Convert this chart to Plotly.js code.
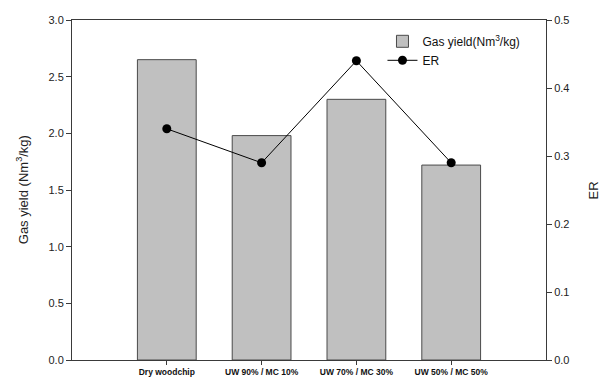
<!DOCTYPE html>
<html>
<head>
<meta charset="utf-8">
<script src="https://cdn.plot.ly/plotly-3.0.1.min.js"></script>
<style>
  html, body { margin: 0; padding: 0; background: #fff; }
  #chart { width: 602px; height: 379px; }
</style>
</head>
<body>
<div id="chart"></div>
<script>
// Feed conditions (dry woodchip vs. wet-woodchip blends)
const categories = ["Dry woodchip", "UW 90% / MC 10%", "UW 70% / MC 30%", "UW 50% / MC 50%"];
// Gas yield, Nm3/kg
const gasYield = [2.65, 1.98, 2.30, 1.72];
// Equivalence ratio
const erValues = [0.34, 0.29, 0.44, 0.29];
const leftTicks = [0, 0.5, 1.0, 1.5, 2.0, 2.5, 3.0];
const rightTicks = [0, 0.1, 0.2, 0.3, 0.4, 0.5];

const font = "Liberation Sans, Arial, sans-serif";

const traces = [
  {
    type: "bar",
    name: "Gas yield(Nm<sup>3</sup>/kg)",
    x: categories,
    y: gasYield,
    width: 0.62,
    marker: { color: "#c0c0c0", line: { color: "#4a4a4a", width: 1 } },
    yaxis: "y"
  },
  {
    type: "scatter",
    mode: "lines+markers",
    name: "ER",
    x: categories,
    y: erValues,
    line: { color: "#000", width: 1 },
    marker: { color: "#000", size: 9 },
    yaxis: "y2"
  }
];

const layout = {
  width: 602,
  height: 379,
  margin: { l: 72, r: 56, t: 20, b: 19 },
  paper_bgcolor: "#fff",
  plot_bgcolor: "#fff",
  showlegend: true,
  font: { family: font, color: "#222" },
  legend: {
    x: 0.655, y: 0.98, xanchor: "left", yanchor: "top",
    bgcolor: "rgba(0,0,0,0)",
    font: { size: 12, family: font, color: "#111" },
    tracegroupgap: 0,
    itemwidth: 30
  },
  xaxis: {
    type: "category",
    range: [-1, 4],
    showline: true, mirror: true, linecolor: "#3a3a3a", linewidth: 1,
    ticks: "outside", ticklen: 4, tickcolor: "#3a3a3a",
    tickfont: { size: 8.5, family: font, color: "#111", weight: "bold" },
    showgrid: false, zeroline: false, automargin: false
  },
  yaxis: {
    range: [0, 3],
    tickvals: leftTicks,
    ticktext: leftTicks.map(v => v.toFixed(1)),
    showline: true, linecolor: "#3a3a3a", linewidth: 1,
    ticks: "outside", ticklen: 5, tickcolor: "#3a3a3a",
    tickfont: { size: 11, family: font, color: "#222" },
    showgrid: false, zeroline: false, automargin: false
  },
  yaxis2: {
    overlaying: "y", side: "right",
    range: [0, 0.5],
    tickvals: rightTicks,
    ticktext: rightTicks.map(v => v.toFixed(1)),
    showline: true, linecolor: "#3a3a3a", linewidth: 1,
    ticks: "outside", ticklen: 5, tickcolor: "#3a3a3a",
    tickfont: { size: 11, family: font, color: "#222" },
    showgrid: false, zeroline: false, automargin: false
  },
  annotations: [
    {
      text: "Gas yield (Nm<sup>3</sup>/kg)",
      xref: "paper", yref: "paper", x: -0.105, y: 0.5,
      xanchor: "center", yanchor: "middle",
      textangle: -90, showarrow: false,
      font: { size: 13, family: font, color: "#222" }
    },
    {
      text: "ER",
      xref: "paper", yref: "paper", x: 1.1, y: 0.5,
      xanchor: "center", yanchor: "middle",
      textangle: -90, showarrow: false,
      font: { size: 13, family: font, color: "#222" }
    }
  ]
};

Plotly.newPlot("chart", traces, layout, { staticPlot: true, displayModeBar: false });
</script>
</body>
</html>
